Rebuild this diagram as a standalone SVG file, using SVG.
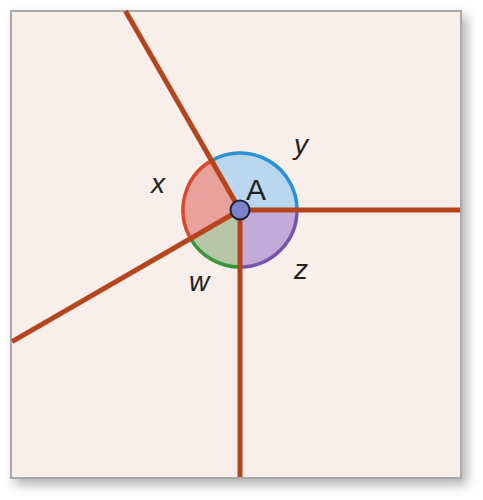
<svg xmlns="http://www.w3.org/2000/svg" width="483" height="500" viewBox="0 0 483 500">
<defs>
<filter id="sh" x="-10%" y="-10%" width="125%" height="125%">
<feDropShadow dx="5" dy="6" stdDeviation="6" flood-color="#000" flood-opacity="0.3"/>
</filter>
<style>
.ray{stroke:#b4451d;stroke-width:5;stroke-linecap:butt;fill:none}
.arc{fill:none;stroke-width:3.5}
.lbl{font-family:"Liberation Sans",Arial,sans-serif;font-size:28px;fill:#222;font-style:italic}
</style>
</defs>
<rect width="483" height="500" fill="#ffffff"/>
<rect x="11" y="11" width="450" height="467" fill="#f8eeea" stroke="#a9a9a9" stroke-width="2" filter="url(#sh)"/>
<g id="angles">
<g id="angle-y">
<path d="M240,210 L297,210 A57,57 0 0 0 211.5,160.64 Z" fill="#b9d7ee"/>
<path class="arc" d="M297,210 A57,57 0 0 0 211.5,160.64" stroke="#2b90d8"/>
</g>
<g id="angle-x">
<path d="M240,210 L211.5,160.64 A57,57 0 0 0 190.64,238.5 Z" fill="#e8a19b"/>
<path class="arc" d="M211.5,160.64 A57,57 0 0 0 190.64,238.5" stroke="#d9492f"/>
</g>
<g id="angle-w">
<path d="M240,210 L190.64,238.5 A57,57 0 0 0 240,267 Z" fill="#b7c6a6"/>
<path class="arc" d="M190.64,238.5 A57,57 0 0 0 240,267" stroke="#3a953a"/>
</g>
<g id="angle-z">
<path d="M240,210 L240,267 A57,57 0 0 0 297,210 Z" fill="#c2abd9"/>
<path class="arc" d="M240,267 A57,57 0 0 0 297,210" stroke="#7652b0"/>
</g>
</g>
<g id="connectors">
<line class="ray" x1="240" y1="210" x2="125.5" y2="11"/>
<line class="ray" x1="240" y1="210" x2="460" y2="210"/>
<line class="ray" x1="240" y1="210" x2="240" y2="477"/>
<line class="ray" x1="240" y1="210" x2="12" y2="341.6"/>
</g>
<g id="point-A">
<circle cx="240" cy="210" r="9.5" fill="#7b82c9" stroke="#1f2433" stroke-width="2"/>
<text x="246" y="200" font-family="Liberation Sans,Arial,sans-serif" font-size="30" fill="#222">A</text>
</g>
<g id="labels">
<text class="lbl" x="151" y="193">x</text>
<text class="lbl" x="294" y="154">y</text>
<text class="lbl" x="189" y="291">w</text>
<text class="lbl" x="294" y="279">z</text>
</g>
</svg>
